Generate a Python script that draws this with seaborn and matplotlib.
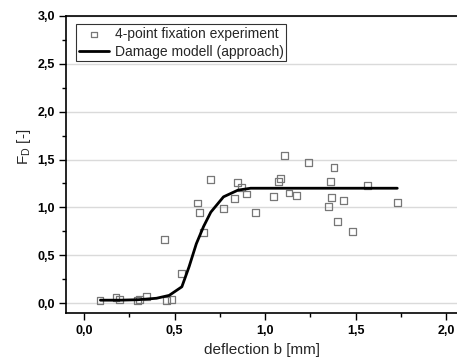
import matplotlib
matplotlib.use("Agg")
import matplotlib.pyplot as plt
import seaborn as sns
import pandas as pd
from matplotlib.ticker import MultipleLocator, FuncFormatter

# experiment data (deflection b [mm], F_D [-])
exp_x = [0.088, 0.176, 0.194, 0.295, 0.308, 0.344, 0.445, 0.456, 0.484, 0.537,
         0.626, 0.636, 0.661, 0.698, 0.769, 0.833, 0.846, 0.870, 0.897, 0.947,
         1.046, 1.075, 1.084, 1.106, 1.132, 1.172, 1.238, 1.348, 1.363, 1.368,
         1.381, 1.400, 1.432, 1.482, 1.564, 1.731]
exp_y = [0.03, 0.06, 0.04, 0.03, 0.04, 0.066, 0.66, 0.03, 0.04, 0.31,
         1.045, 0.945, 0.74, 1.29, 0.99, 1.09, 1.26, 1.21, 1.14, 0.95,
         1.11, 1.27, 1.30, 1.54, 1.15, 1.12, 1.47, 1.01, 1.27, 1.10,
         1.42, 0.85, 1.07, 0.75, 1.23, 1.05]

# damage model curve
model_x = [0.09, 0.2, 0.3, 0.4, 0.47, 0.54, 0.58, 0.62, 0.66, 0.70, 0.77, 0.85, 0.92, 1.2, 1.73]
model_y = [0.03, 0.03, 0.035, 0.05, 0.08, 0.17, 0.38, 0.62, 0.80, 0.95, 1.11, 1.18, 1.20, 1.20, 1.20]

sns.set_style("white")
plt.rcParams['font.family'] = ['Liberation Sans', 'DejaVu Sans']

fig = plt.figure(figsize=(4.57, 3.61), dpi=100)
ax = fig.add_axes([66/457, 48/361, 1 - 66/457, (313-16)/361])

df_exp = pd.DataFrame({"x": exp_x, "y": exp_y})
df_mod = pd.DataFrame({"x": model_x, "y": model_y})

ax.yaxis.grid(True, color="#dadada", linewidth=1.0)
ax.set_axisbelow(True)

sns.scatterplot(data=df_exp, x="x", y="y", ax=ax, marker="s", s=24,
                facecolor="none", edgecolor="#777777", linewidth=0.9,
                label="4-point fixation experiment", zorder=3)
sns.lineplot(data=df_mod, x="x", y="y", ax=ax, color="black", linewidth=2.0,
             label="Damage modell (approach)", zorder=4, sort=False)

ax.set_xlim(-0.1, 2.06)
ax.set_ylim(-0.104, 3.0)

ax.xaxis.set_major_locator(MultipleLocator(0.5))
ax.xaxis.set_minor_locator(MultipleLocator(0.25))
ax.yaxis.set_major_locator(MultipleLocator(0.5))
ax.yaxis.set_minor_locator(MultipleLocator(0.25))
fmt = FuncFormatter(lambda v, p: ("%.1f" % v).replace(".", ","))
ax.xaxis.set_major_formatter(fmt)
ax.yaxis.set_major_formatter(fmt)

ax.tick_params(axis="both", which="major", direction="out", length=5, width=1,
               colors="black", labelsize=9, bottom=True, left=True)
ax.tick_params(axis="x", which="major", pad=4)
ax.tick_params(axis="y", which="major", pad=3)
ax.tick_params(axis="both", which="minor", direction="out", length=3, width=1,
               colors="black", bottom=True, left=True)
for lab in ax.get_xticklabels() + ax.get_yticklabels():
    lab.set_fontweight("bold")

for side in ["left", "bottom", "top"]:
    ax.spines[side].set_color("black")
    ax.spines[side].set_linewidth(1.2)
ax.spines["right"].set_visible(False)

ax.set_xlabel("deflection b [mm]", fontsize=11, labelpad=4)
ax.set_ylabel(r"F$_\mathregular{D}$ [-]", fontsize=11)
ax.yaxis.set_label_coords(-0.084, 0.56)

leg = ax.legend(loc="upper left", bbox_to_anchor=(0.025, 0.972), fontsize=10,
                frameon=True, fancybox=False, borderpad=0.2, labelspacing=0.25,
                handlelength=2.2, handletextpad=0.4, borderaxespad=0.0,
                markerscale=0.8)
leg.get_frame().set_edgecolor("black")
leg.get_frame().set_linewidth(0.8)

fig.savefig("out.png", dpi=100)
